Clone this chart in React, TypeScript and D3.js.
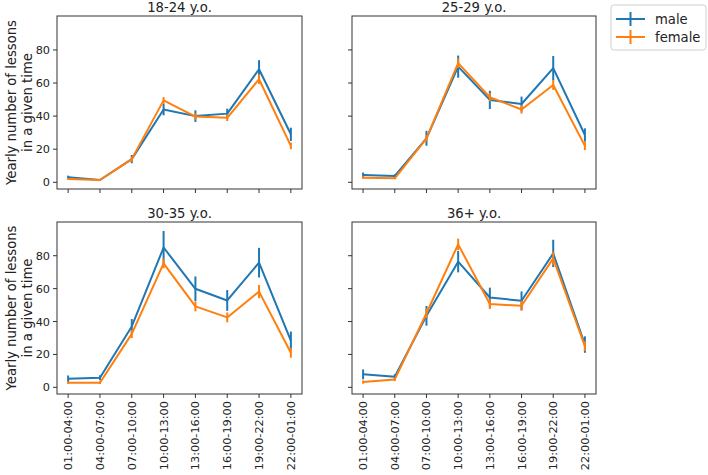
import React from "react";
import * as d3 from "d3";

const categories = ["01:00-04:00", "04:00-07:00", "07:00-10:00", "10:00-13:00", "13:00-16:00", "16:00-19:00", "19:00-22:00", "22:00-01:00"];
const panelTitles = ["18-24 y.o.", "25-29 y.o.", "30-35 y.o.", "36+ y.o."];
const seriesNames = ["male", "female"];
const yTicks = [0, 20, 40, 60, 80];

const maleValues = [
  [3.0, 1.4, 14.0, 44.0, 40.0, 41.5, 68.3, 29.0],
  [4.4, 3.8, 26.6, 69.9, 49.8, 47.3, 69.0, 28.6],
  [5.2, 5.8, 37.0, 85.0, 59.9, 52.8, 75.8, 28.4],
  [7.9, 6.5, 43.5, 76.4, 54.6, 52.6, 81.4, 26.0],
];
const maleErrors = [
  [1.0, 0.5, 2.5, 3.5, 3.5, 3.0, 5.5, 4.0],
  [1.5, 1.0, 4.5, 6.7, 5.5, 4.5, 7.3, 4.0],
  [2.0, 1.5, 4.5, 10.0, 7.5, 6.3, 9.0, 5.5],
  [3.0, 1.5, 6.0, 6.5, 6.0, 5.7, 8.3, 5.0],
];
const femaleValues = [
  [2.0, 1.4, 14.0, 49.5, 39.7, 39.0, 62.3, 22.0],
  [2.8, 2.4, 26.6, 72.0, 51.4, 44.0, 58.8, 22.0],
  [2.8, 2.8, 32.5, 75.4, 49.2, 42.5, 58.2, 21.0],
  [3.2, 4.8, 45.0, 86.9, 50.6, 49.6, 78.4, 25.0],
];
const femaleErrors = [
  [0.5, 0.3, 1.5, 2.0, 2.0, 2.0, 3.0, 2.0],
  [0.8, 0.5, 2.0, 3.0, 2.5, 2.5, 3.0, 2.5],
  [0.8, 0.8, 2.5, 3.0, 3.0, 3.0, 4.0, 3.0],
  [1.0, 1.0, 3.0, 3.5, 3.0, 3.0, 4.0, 3.0],
];

const colors = ["#1f77b4", "#ff7f0e"];
const FONT = "DejaVu Sans, sans-serif";
const TICK_FS = 11.3;
const LABEL_FS = 13.2;

const panels = [
  { x0: 57, x1: 302, y0: 16, y1: 189 },
  { x0: 352, x1: 596, y0: 16, y1: 189 },
  { x0: 57, x1: 302, y0: 222, y1: 394 },
  { x0: 352, x1: 596, y0: 222, y1: 394 },
];

function Panel({ idx }: { idx: number }) {
  const p = panels[idx];
  const x = d3.scaleLinear().domain([-0.35, categories.length - 1 + 0.35]).range([p.x0, p.x1]);
  const y = d3.scaleLinear().domain([-4.05, 100.5]).range([p.y1, p.y0]);
  const line = d3.line<number>().x((_, i) => x(i)).y((d) => y(d));
  const data = [
    { v: maleValues[idx], e: maleErrors[idx] },
    { v: femaleValues[idx], e: femaleErrors[idx] },
  ];
  const showY = idx % 2 === 0;
  const showX = idx >= 2;
  const tickColor = "#333";
  return (
    <g>
      {data.map((s, si) => (
        <g key={si}>
          <path d={line(s.v) || ""} fill="none" stroke={colors[si]} strokeWidth={2} strokeLinejoin="round" />
          {s.v.map((v, i) => (
            <line key={i} x1={x(i)} x2={x(i)} y1={y(v - s.e[i])} y2={y(v + s.e[i])} stroke={colors[si]} strokeWidth={2} />
          ))}
        </g>
      ))}
      <rect x={p.x0} y={p.y0} width={p.x1 - p.x0} height={p.y1 - p.y0} fill="none" stroke={tickColor} strokeWidth={1} />
      {categories.map((c, i) => (
        <g key={c}>
          <line x1={x(i)} x2={x(i)} y1={p.y1} y2={p.y1 + 4} stroke={tickColor} strokeWidth={1} />
          {showX && (
            <text
              transform={`translate(${x(i) + 4},${p.y1 + 7}) rotate(-90)`}
              textAnchor="end"
              fontSize={TICK_FS}
              fontFamily={FONT}
              fill="#222"
            >
              {c}
            </text>
          )}
        </g>
      ))}
      {yTicks.map((t) => (
        <g key={t}>
          <line x1={p.x0 - 4} x2={p.x0} y1={y(t)} y2={y(t)} stroke={tickColor} strokeWidth={1} />
          {showY && (
            <text x={p.x0 - 7} y={y(t) + 4} textAnchor="end" fontSize={TICK_FS} fontFamily={FONT} fill="#222">
              {t}
            </text>
          )}
        </g>
      ))}
      <text x={(p.x0 + p.x1) / 2} y={p.y0 - 4.5} textAnchor="middle" fontSize={LABEL_FS} fontFamily={FONT} fill="#222">
        {panelTitles[idx]}
      </text>
      {showY && (
        <g transform={`translate(${16},${(p.y0 + p.y1) / 2}) rotate(-90)`}>
          <text x={0} y={0} textAnchor="middle" fontSize={LABEL_FS} fontFamily={FONT} fill="#222">
            Yearly number of lessons
          </text>
          <text x={0} y={15.5} textAnchor="middle" fontSize={LABEL_FS} fontFamily={FONT} fill="#222">
            in a given time
          </text>
        </g>
      )}
    </g>
  );
}

function Legend() {
  const lx = 611, ly = 5;
  return (
    <g>
      <rect x={lx} y={ly} width={95} height={45} rx={3} fill="#fff" stroke="#d0d0d0" strokeWidth={1} />
      {seriesNames.map((n, i) => {
        const cy = ly + 14 + i * 18;
        return (
          <g key={n}>
            <line x1={lx + 5} x2={lx + 34} y1={cy} y2={cy} stroke={colors[i]} strokeWidth={2} />
            <line x1={lx + 19.5} x2={lx + 19.5} y1={cy - 7} y2={cy + 7} stroke={colors[i]} strokeWidth={2} />
            <text x={lx + 44} y={cy + 4.6} fontSize={LABEL_FS} fontFamily={FONT} fill="#222">
              {n}
            </text>
          </g>
        );
      })}
    </g>
  );
}

export default function App() {
  return (
    <svg width={708} height={475} style={{ position: "absolute", left: 0, top: 0, background: "#fff" }}>
      <rect x={0} y={0} width={708} height={475} fill="#fff" />
      {panels.map((_, i) => (
        <Panel key={i} idx={i} />
      ))}
      <Legend />
    </svg>
  );
}
